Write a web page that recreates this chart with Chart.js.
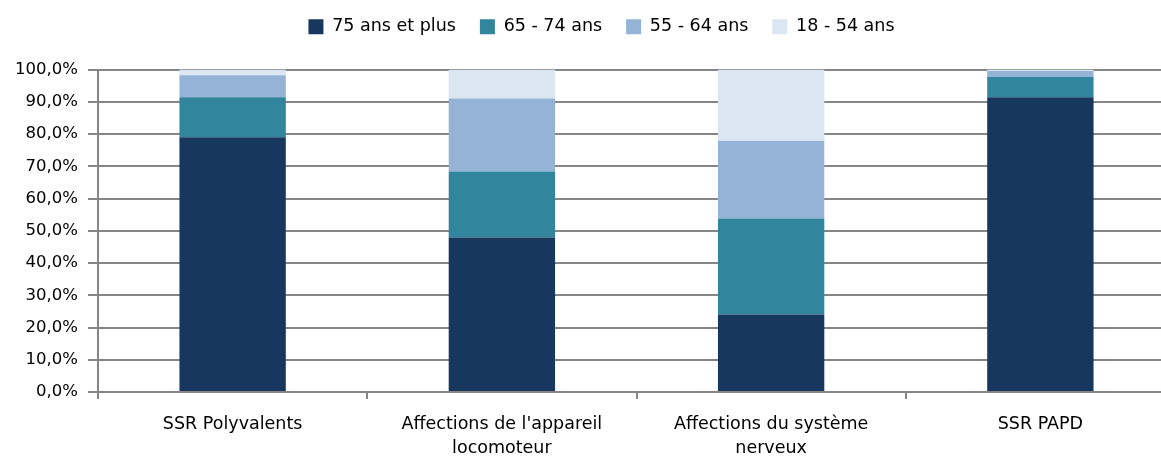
<!DOCTYPE html>
<html>
<head>
<meta charset="utf-8">
<script src="https://cdn.jsdelivr.net/npm/chart.js@4/dist/chart.umd.min.js"></script>
<style>
    html, body { margin: 0; padding: 0; background: #fff; overflow: hidden; }
    #wrap { width: 1200px; height: 457px; }
</style>
</head>
<body>
<div id="wrap"><canvas id="chart" width="1200" height="457"></canvas></div>
<script>
// categories (multi-line labels)
var categories = [
    'SSR Polyvalents',
    ["Affections de l'appareil", 'locomoteur'],
    ['Affections du système', 'nerveux'],
    'SSR PAPD'
];

// series, in %
var seriesNames = ['75 ans et plus', '65 - 74 ans', '55 - 64 ans', '18 - 54 ans'];
var age75plus = [79.0, 47.9, 24.0, 91.4];
var age65to74 = [12.4, 20.5, 29.8, 6.3];
var age55to64 = [6.8, 22.6, 24.1, 1.8];
var age18to54 = [1.8, 9.0, 22.1, 0.5];

// y tick values
var yTicks = [0, 10, 20, 30, 40, 50, 60, 70, 80, 90, 100];

var colors = ['#17375E', '#31859C', '#95B3D7', '#DCE6F2'];

function pct(v) {
    return v.toFixed(1).replace('.', ',') + '%';
}

var values = [age75plus, age65to74, age55to64, age18to54];
var datasets = [];
for(var i = 0; i < seriesNames.length; i++) {
    datasets.push({
        label: seriesNames[i],
        data: values[i],
        backgroundColor: colors[i],
        borderWidth: 0,
        barPercentage: 0.395,
        categoryPercentage: 1.0
    });
}

Chart.defaults.font.family = '"DejaVu Sans", sans-serif';
Chart.defaults.color = '#000';

// more room under the legend, and legend centred a bit right (like excel)
var legendTweak = {
    id: 'legendTweak',
    beforeInit: function(chart) {
        var fit = chart.legend.fit;
        chart.legend.fit = function() {
            fit.bind(chart.legend)();
            this.height += 24;
        };
    },
    afterLayout: function(chart) {
        chart.legend.left += 14;
        chart.legend.right += 14;
    }
};

new Chart(document.getElementById('chart').getContext('2d'), {
    type: 'bar',
    data: { labels: categories, datasets: datasets },
    plugins: [legendTweak],
    options: {
        responsive: false,
        animation: false,
        layout: { padding: { left: 0, right: 25, top: -6, bottom: 0 } },
        plugins: {
            tooltip: { enabled: false },
            legend: {
                position: 'top',
                labels: {
                    font: { size: 17.5 },
                    boxWidth: 15,
                    boxHeight: 15,
                    padding: 24
                }
            }
        },
        scales: {
            x: {
                stacked: true,
                offset: true,
                grid: {
                    offset: true,
                    drawOnChartArea: false,
                    drawTicks: true,
                    tickLength: 7,
                    color: '#868686',
                    lineWidth: 2
                },
                border: { color: '#868686', width: 2 },
                ticks: {
                    font: { size: 17.5, lineHeight: 1.37 },
                    padding: 13,
                    maxRotation: 0,
                    autoSkip: false
                },
                afterFit: function(scale) { scale.height = 65; }
            },
            y: {
                stacked: true,
                min: 0,
                max: 100,
                afterBuildTicks: function(scale) {
                    scale.ticks = yTicks.map(function(v) { return { value: v }; });
                },
                grid: {
                    color: '#868686',
                    lineWidth: 2,
                    tickLength: 10
                },
                border: { color: '#868686', width: 2 },
                ticks: {
                    font: { size: 16.5 },
                    padding: 10,
                    callback: function(v) { return pct(v); }
                },
                afterFit: function(scale) { scale.width = 98; }
            }
        }
    }
});
</script>
</body>
</html>
